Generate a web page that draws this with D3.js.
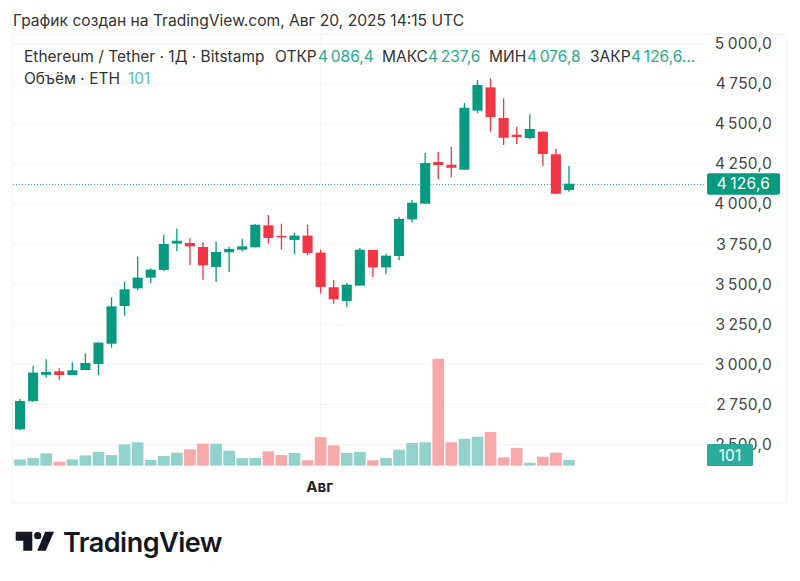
<!DOCTYPE html>
<html>
<head>
<meta charset="utf-8">
<script src="https://cdn.jsdelivr.net/npm/d3@7"></script>
<style>
  body { margin: 0; background: #fff; }
  svg { display: block; font-family: Inter, "Noto Sans", sans-serif; }
</style>
</head>
<body>
<div id="chart"></div>
<script>
// daily ETH/USDT candles
var days = d3.timeDay.range(new Date(2025, 6, 9), new Date(2025, 7, 21));
var opens = [2595,2772,2935,2957,2934,2965,3003,3129,3364,3474,3541,3589,3753,3757,3732,3607,3699,3715,3730,3867,3801,3776,3803,3697,3481,3395,3491,3713,3605,3676,3904,4002,4262,4245,4214,4582,4727,4536,4432,4411,4451,4310,4086.4];
var highs = [2784,2992,3032,2976,3013,3069,3136,3418,3516,3672,3599,3809,3848,3786,3761,3765,3734,3784,3873,3931,3877,3821,3871,3715,3526,3508,3726,3713,3692,3921,4025,4320,4324,4355,4630,4773,4784,4659,4482,4559,4451,4345,4237.6];
var lows = [2591,2765,2919,2905,2934,2965,2934,3104,3306,3464,3508,3580,3707,3620,3528,3514,3576,3705,3730,3753,3717,3686,3682,3441,3379,3360,3491,3545,3564,3649,3884,4000,4156,4168,4214,4567,4451,4368,4374,4403,4237,4064,4076.8];
var closes = [2772,2949,2953,2934,2963,3009,3136,3362,3468,3541,3591,3751,3771,3736,3618,3701,3720,3736,3871,3788,3792,3803,3695,3483,3406,3497,3715,3605,3678,3907,4008,4256,4243,4226,4600,4742,4542,4413,4418,4468,4312,4064,4126.6];
var volumes = [112,136,219,71,112,183,243,189,379,415,101,172,231,290,391,391,266,136,136,255,189,225,95,509,361,225,243,95,136,284,403,415,1900,415,479,515,598,148,314,53,160,231,101];
var priceTicks = [2500,2750,3000,3250,3500,3750,4000,4250,4500,4750,5000];
var monthTicks = [new Date(2025, 7, 1)];
var lastPrice = 4126.6;
var lastVolume = 101;

var green = "#089981", red = "#f23645";
var greenVol = "#92d2cc", redVol = "#f7a9a9";
var gridColor = "#f3f3f3";

var width = 800, height = 581;

var svg = d3.select("#chart")
  .append("svg")
    .attr("width", width)
    .attr("height", height);

var x = d3.scaleBand().domain(days).range([13.5, 575.5]);
var y = d3.scaleLinear().domain([2500, 5000]).range([444.6, 43.6]);
var yVol = d3.scaleLinear().domain([0, 1900]).range([465.7, 358.7]);

var ru = d3.formatLocale({decimal: ",", thousands: "\u2009", grouping: [3]});
var fmt = ru.format(",.1f");

var candles = days.map(function(d, i) {
  return {day: d, o: opens[i], h: highs[i], l: lows[i], c: closes[i], v: volumes[i]};
});

// chart frame
svg.append("rect")
  .attr("x", 12.5).attr("y", 34.5)
  .attr("width", 774).attr("height", 469)
  .attr("fill", "none")
  .attr("stroke", gridColor);

// grid
svg.append("g").selectAll("line")
  .data(priceTicks)
  .enter().append("line")
    .attr("x1", 13).attr("x2", 706)
    .attr("y1", function(d) { return y(d); })
    .attr("y2", function(d) { return y(d); })
    .attr("stroke", gridColor);

svg.append("g").selectAll("line")
  .data(monthTicks)
  .enter().append("line")
    .attr("x1", function(d) { return x(d3.timeDay.floor(d)) + x.bandwidth() / 2; })
    .attr("x2", function(d) { return x(d3.timeDay.floor(d)) + x.bandwidth() / 2; })
    .attr("y1", 35).attr("y2", 466)
    .attr("stroke", gridColor);

// volume bars
svg.append("g").selectAll("rect")
  .data(candles)
  .enter().append("rect")
    .attr("x", function(d) { return x(d.day) + 0.7; })
    .attr("width", x.bandwidth() - 1.4)
    .attr("y", function(d) { return yVol(d.v); })
    .attr("height", function(d) { return yVol(0) - yVol(d.v); })
    .attr("fill", function(d) { return d.c >= d.o ? greenVol : redVol; });

// last price line
svg.append("line")
  .attr("x1", 13).attr("x2", 706)
  .attr("y1", Math.round(y(lastPrice)) + 0.5).attr("y2", Math.round(y(lastPrice)) + 0.5)
  .attr("stroke", "#2aa88f")
  .attr("stroke-width", 1)
  .attr("stroke-dasharray", "1 2");

// candles
var candle = svg.append("g").selectAll("g")
  .data(candles)
  .enter().append("g")
    .attr("fill", function(d) { return d.c >= d.o ? green : red; })
    .attr("stroke", function(d) { return d.c >= d.o ? green : red; });

candle.append("line")
  .attr("x1", function(d) { return x(d.day) + x.bandwidth() / 2; })
  .attr("x2", function(d) { return x(d.day) + x.bandwidth() / 2; })
  .attr("y1", function(d) { return y(d.h); })
  .attr("y2", function(d) { return y(d.l); })
  .attr("stroke-width", 1.3);

candle.append("rect")
  .attr("x", function(d) { return x(d.day) + 1.5; })
  .attr("width", x.bandwidth() - 3)
  .attr("y", function(d) { return y(Math.max(d.o, d.c)); })
  .attr("height", function(d) { return Math.max(1.5, Math.abs(y(d.o) - y(d.c))); })
  .attr("stroke", "none");

// price axis
var yAxis = svg.append("g")
  .attr("transform", "translate(772,0)")
  .call(d3.axisRight(y).tickValues(priceTicks).tickSize(0).tickFormat(fmt));
yAxis.select(".domain").remove();
yAxis.selectAll("text")
  .attr("x", 0)
  .attr("text-anchor", "end")
  .attr("font-family", "Inter, sans-serif")
  .attr("font-size", 15.5)
  .attr("letter-spacing", 0.3)
  .attr("fill", "#444");

// month axis
var xAxis = svg.append("g")
  .attr("transform", "translate(-1,478)")
  .call(d3.axisBottom(x)
    .tickValues(monthTicks.map(function(d) { return days.find(function(e) { return +e === +d; }); }))
    .tickSize(0)
    .tickFormat(function() { return "Авг"; }));
xAxis.select(".domain").remove();
xAxis.selectAll("text")
  .attr("y", 0)
  .attr("dy", "0.9em")
  .attr("font-family", "Inter, sans-serif")
  .attr("font-size", 15)
  .attr("font-weight", 700)
  .attr("fill", "#222");

// last value tags
svg.append("rect")
  .attr("x", 707).attr("y", y(lastPrice) - 10.5)
  .attr("width", 73).attr("height", 21.5).attr("rx", 2)
  .attr("fill", green);
svg.append("text")
  .attr("x", 743.5).attr("y", y(lastPrice) + 5.5)
  .attr("text-anchor", "middle")
  .attr("font-size", 15.5).attr("letter-spacing", 0.3).attr("fill", "#fff")
  .text(fmt(lastPrice));

svg.append("rect")
  .attr("x", 707).attr("y", 444)
  .attr("width", 46).attr("height", 22).attr("rx", 1.5)
  .attr("fill", "#2bab9b");
svg.append("text")
  .attr("x", 730).attr("y", 461)
  .attr("text-anchor", "middle")
  .attr("font-size", 15.5).attr("fill", "#fff")
  .text(lastVolume);

// header
svg.append("text")
  .attr("x", 13).attr("y", 26)
  .attr("font-size", 15.6).attr("fill", "#333")
  .text("График создан на TradingView.com, Авг 20, 2025 14:15 UTC");

var legendDark = [
  {t: "Ethereum / Tether · 1Д · Bitstamp", x: 24},
  {t: "ОТКР", x: 275},
  {t: "МАКС", x: 382},
  {t: "МИН", x: 489},
  {t: "ЗАКР", x: 590}
];
var legendGreen = [
  {t: fmt(opens[42]), x: 318},
  {t: fmt(highs[42]), x: 428},
  {t: fmt(lows[42]), x: 527},
  {t: fmt(closes[42]) + "…", x: 631}
];

svg.append("g").selectAll("text")
  .data(legendDark)
  .enter().append("text")
    .attr("x", function(d) { return d.x; })
    .attr("y", 61.5)
    .attr("font-size", 15.5).attr("fill", "#333")
    .text(function(d) { return d.t; });
svg.append("g").selectAll("text")
  .data(legendGreen)
  .enter().append("text")
    .attr("x", function(d) { return d.x; })
    .attr("y", 61.5)
    .attr("font-size", 15.5).attr("fill", "#2aa88f")
    .text(function(d) { return d.t; });

svg.append("text")
  .attr("x", 24).attr("y", 83.5)
  .attr("font-size", 15.5).attr("fill", "#333")
  .text("Объём · ETH");
svg.append("text")
  .attr("x", 128).attr("y", 83.5)
  .attr("font-size", 15.5).attr("fill", "#5cc0ae")
  .text(lastVolume);

// logo
var logo = svg.append("g").attr("fill", "#131722");
logo.append("path").attr("d", "M15.7 531.7H32.3V550.7H23.3V540.7H15.7Z");
logo.append("circle").attr("cx", 37.7).attr("cy", 535.7).attr("r", 3.6);
logo.append("path").attr("d", "M45.2 531.7H54L45.7 550.7H37.2Z");
svg.append("text")
  .attr("x", 63).attr("y", 552)
  .attr("font-size", 27).attr("font-weight", 600)
  .attr("letter-spacing", -0.5)
  .attr("fill", "#131722")
  .text("TradingView");
</script>
</body>
</html>
